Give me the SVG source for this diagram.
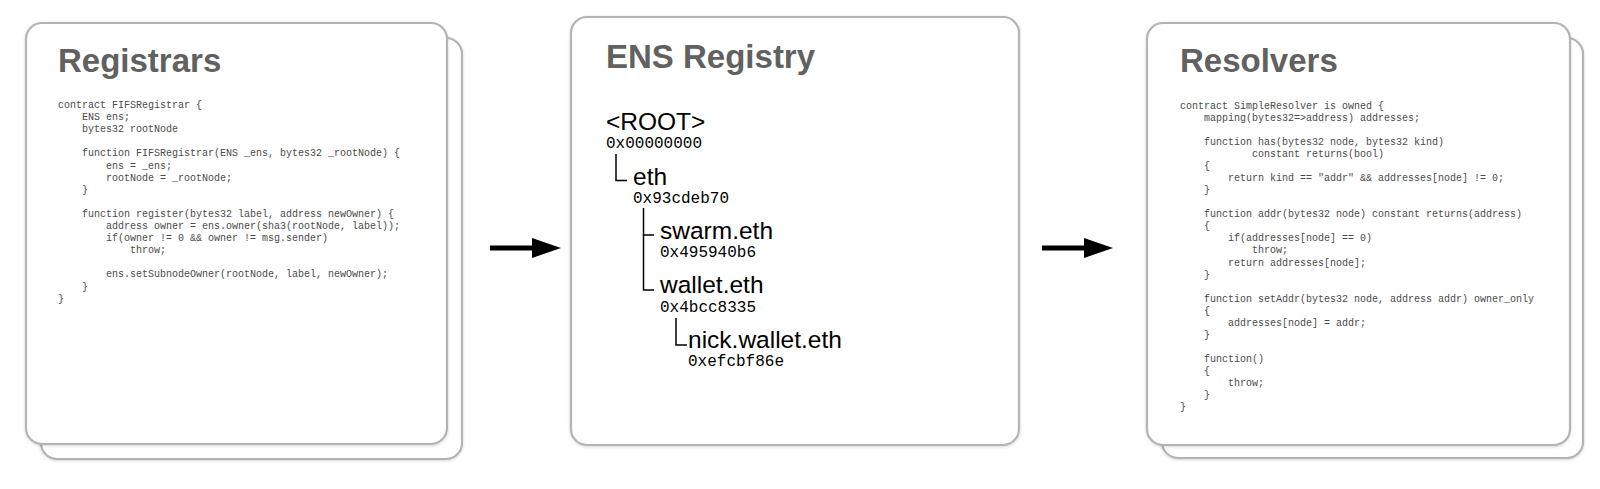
<svg xmlns="http://www.w3.org/2000/svg" width="1600" height="489" viewBox="0 0 1600 489">
<style>
.card{fill:#ffffff;stroke:#b4b4b4;stroke-width:2.2}
.title{font-family:"Liberation Sans",Arial,sans-serif;font-weight:bold;font-size:33px;fill:#616161}
.code{font-family:"Liberation Mono","Courier New",monospace;font-size:10px;fill:#4a4a4a;white-space:pre}
.name{font-family:"Liberation Sans",Arial,sans-serif;font-size:24.5px;fill:#000}
.hex{font-family:"Liberation Mono","Courier New",monospace;font-size:16px;fill:#000}
.tree{fill:none;stroke:#000;stroke-width:1.5}
.arrow{stroke:#000;stroke-width:5}
</style>
<defs>
<filter id="sh" x="-5%" y="-5%" width="110%" height="110%">
<feDropShadow dx="0" dy="1" stdDeviation="1.5" flood-color="#000" flood-opacity="0.15"/>
</filter>
</defs>
<rect width="1600" height="489" fill="#ffffff"/>

<g id="registrars">
<rect class="card" x="41" y="38" width="421" height="421" rx="16" filter="url(#sh)"/>
<rect class="card" x="26" y="23" width="421" height="421" rx="16" filter="url(#sh)"/>
<text class="title" x="58" y="72">Registrars</text>
<text class="code" xml:space="preserve">
<tspan x="58" y="108">contract FIFSRegistrar {</tspan>
<tspan x="58" y="120.1">    ENS ens;</tspan>
<tspan x="58" y="132.2">    bytes32 rootNode</tspan>
<tspan x="58" y="156.4">    function FIFSRegistrar(ENS _ens, bytes32 _rootNode) {</tspan>
<tspan x="58" y="168.5">        ens = _ens;</tspan>
<tspan x="58" y="180.6">        rootNode = _rootNode;</tspan>
<tspan x="58" y="192.7">    }</tspan>
<tspan x="58" y="216.9">    function register(bytes32 label, address newOwner) {</tspan>
<tspan x="58" y="229">        address owner = ens.owner(sha3(rootNode, label));</tspan>
<tspan x="58" y="241.1">        if(owner != 0 &amp;&amp; owner != msg.sender)</tspan>
<tspan x="58" y="253.2">            throw;</tspan>
<tspan x="58" y="277.4">        ens.setSubnodeOwner(rootNode, label, newOwner);</tspan>
<tspan x="58" y="289.5">    }</tspan>
<tspan x="58" y="301.6">}</tspan>
</text>
</g>

<g id="registry">
<rect class="card" x="571" y="17" width="448" height="428" rx="16" filter="url(#sh)"/>
<text class="title" x="606" y="68">ENS Registry</text>
<text class="name" x="606" y="130">&lt;ROOT&gt;</text>
<text class="hex" x="606" y="148">0x00000000</text>
<text class="name" x="633" y="185">eth</text>
<text class="hex" x="633" y="203">0x93cdeb70</text>
<text class="name" x="660" y="239">swarm.eth</text>
<text class="hex" x="660" y="257">0x495940b6</text>
<text class="name" x="660" y="293">wallet.eth</text>
<text class="hex" x="660" y="312">0x4bcc8335</text>
<text class="name" x="688" y="348">nick.wallet.eth</text>
<text class="hex" x="688" y="366">0xefcbf86e</text>
<path class="tree" d="M616 154 V180.5 H627"/>
<path class="tree" d="M643.5 208 V290 H654 M643.5 235 H654"/>
<path class="tree" d="M676 318 V345 H687"/>
</g>

<g id="resolvers">
<rect class="card" x="1162" y="38" width="421" height="420" rx="16" filter="url(#sh)"/>
<rect class="card" x="1147" y="23" width="423" height="422" rx="16" filter="url(#sh)"/>
<text class="title" x="1180" y="72">Resolvers</text>
<text class="code" xml:space="preserve">
<tspan x="1180" y="109">contract SimpleResolver is owned {</tspan>
<tspan x="1180" y="121.04">    mapping(bytes32=&gt;address) addresses;</tspan>
<tspan x="1180" y="145.12">    function has(bytes32 node, bytes32 kind)</tspan>
<tspan x="1180" y="157.16">            constant returns(bool)</tspan>
<tspan x="1180" y="169.2">    {</tspan>
<tspan x="1180" y="181.24">        return kind == "addr" &amp;&amp; addresses[node] != 0;</tspan>
<tspan x="1180" y="193.28">    }</tspan>
<tspan x="1180" y="217.36">    function addr(bytes32 node) constant returns(address)</tspan>
<tspan x="1180" y="229.4">    {</tspan>
<tspan x="1180" y="241.44">        if(addresses[node] == 0)</tspan>
<tspan x="1180" y="253.48">            throw;</tspan>
<tspan x="1180" y="265.52">        return addresses[node];</tspan>
<tspan x="1180" y="277.56">    }</tspan>
<tspan x="1180" y="301.64">    function setAddr(bytes32 node, address addr) owner_only</tspan>
<tspan x="1180" y="313.68">    {</tspan>
<tspan x="1180" y="325.72">        addresses[node] = addr;</tspan>
<tspan x="1180" y="337.76">    }</tspan>
<tspan x="1180" y="361.84">    function()</tspan>
<tspan x="1180" y="373.88">    {</tspan>
<tspan x="1180" y="385.92">        throw;</tspan>
<tspan x="1180" y="397.96">    }</tspan>
<tspan x="1180" y="410">}</tspan>
</text>
</g>

<g id="connectors">
<line class="arrow" x1="490" y1="248" x2="534" y2="248"/>
<polygon points="532,238 561,248 532,258" fill="#000"/>
<line class="arrow" x1="1042" y1="248" x2="1086" y2="248"/>
<polygon points="1084,238 1113,248 1084,258" fill="#000"/>
</g>
</svg>
